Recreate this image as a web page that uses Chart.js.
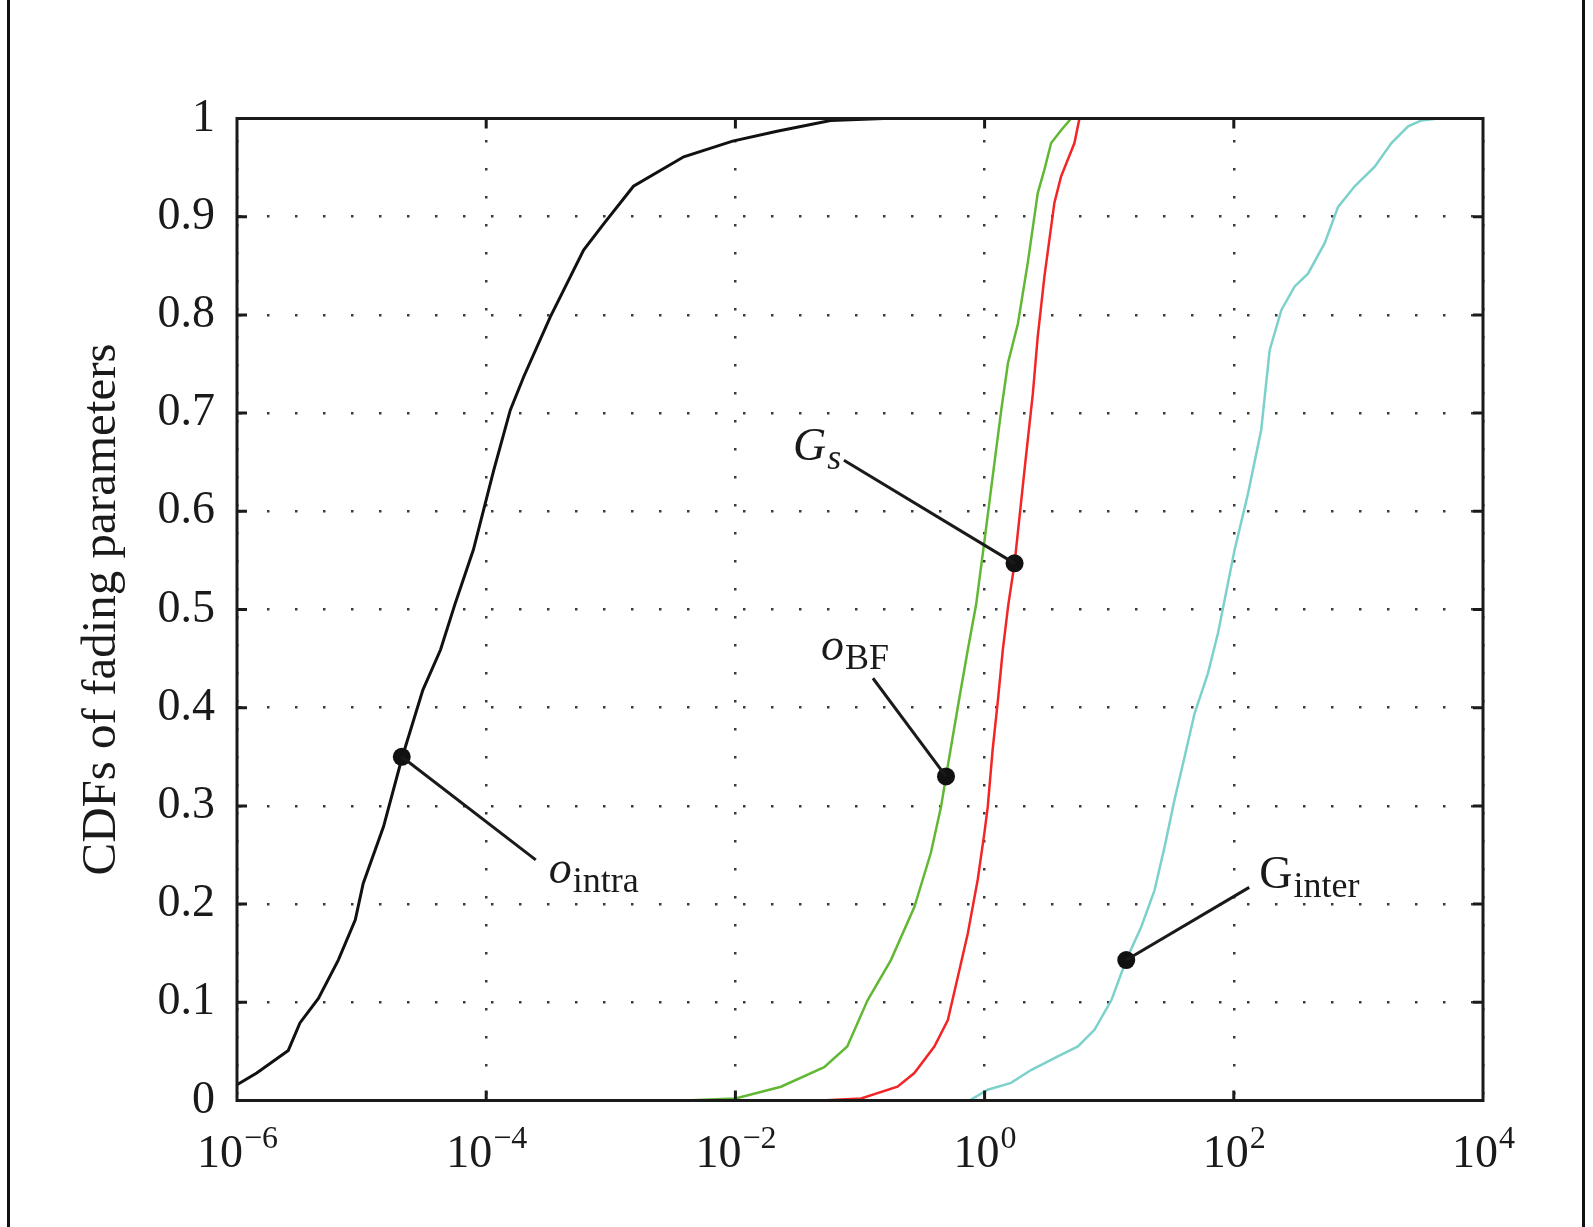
<!DOCTYPE html>
<html>
<head>
<meta charset="utf-8">
<script src="https://cdn.jsdelivr.net/npm/chart.js@4.4.1/dist/chart.umd.min.js"></script>
<style>
  html, body { margin: 0; padding: 0; background: #fff; }
  canvas { display: block; }
</style>
</head>
<body>
<canvas id="cdfChart" width="1593" height="1227"></canvas>
<script>
// axis ticks
const xTickExps = [-6, -4, -2, 0, 2, 4];
const xTickBase = '10';
const xTickSups = ['\u22126', '\u22124', '\u22122', '0', '2', '4'];
const yTicks = [0, 0.1, 0.2, 0.3, 0.4, 0.5, 0.6, 0.7, 0.8, 0.9, 1];
const yTickLabels = ['0', '0.1', '0.2', '0.3', '0.4', '0.5', '0.6', '0.7', '0.8', '0.9', '1'];

// o_intra (black)
const intraX = [1.0e-6, 1.44e-6, 2.58e-6, 3.2e-6, 4.5e-6, 6.5e-6, 8.9e-6, 1.03e-5, 1.5e-5, 2.1e-5,
    3.1e-5, 4.3e-5, 5.6e-5, 7.9e-5, 1.15e-4, 1.56e-4, 2.0e-4, 3.27e-4, 6.05e-4, 8.8e-4,
    1.52e-3, 3.85e-3, 9.5e-3, 2.16e-2, 5.8e-2, 0.155];
const intraY = [0.016, 0.028, 0.051, 0.079, 0.104, 0.143, 0.184, 0.221, 0.279, 0.348,
    0.418, 0.459, 0.505, 0.561, 0.642, 0.703, 0.737, 0.798, 0.866, 0.893,
    0.931, 0.961, 0.977, 0.987, 0.998, 1.0];

// o_BF (green)
const bfX = [4.0e-3, 1.0e-2, 2.32e-2, 5.16e-2, 7.9e-2, 0.115, 0.177, 0.273, 0.37, 0.447,
    0.49, 0.61, 0.733, 0.855, 1.0, 1.16, 1.36, 1.54, 1.85, 2.22, 2.67, 3.02, 3.42, 4.11, 4.95];
const bfY = [0, 0.002, 0.014, 0.034, 0.055, 0.102, 0.143, 0.197, 0.252, 0.299,
    0.33, 0.401, 0.459, 0.505, 0.571, 0.635, 0.703, 0.751, 0.791, 0.853, 0.924, 0.948, 0.975, 0.988, 1.0];

// G_s (red)
const gsX = [4.86e-2, 0.102, 0.2, 0.273, 0.395, 0.507, 0.61, 0.733, 0.881, 0.995,
    1.06, 1.16, 1.28, 1.40, 1.55, 1.74, 2.09, 2.44, 2.67, 3.02, 3.63, 4.11, 4.65, 5.26, 5.77];
const gsY = [0, 0.002, 0.014, 0.028, 0.055, 0.082, 0.126, 0.170, 0.225, 0.272,
    0.299, 0.357, 0.408, 0.459, 0.505, 0.547, 0.642, 0.72, 0.778, 0.839, 0.914, 0.941, 0.958, 0.975, 1.0];

// G_inter (cyan)
const interX = [0.755, 1.06, 1.63, 2.36, 3.87, 5.61, 7.62, 10.4, 13.7, 18.1, 23.1, 27.8, 33.4,
    40.3, 48.4, 62, 74.7, 83, 101.6, 130, 166, 194, 241, 308, 394, 536, 687, 934, 1352,
    1841, 2506, 3207, 4365];
const interY = [0, 0.011, 0.018, 0.031, 0.045, 0.055, 0.072, 0.102, 0.143, 0.177, 0.214, 0.258, 0.306,
    0.35, 0.394, 0.435, 0.476, 0.505, 0.561, 0.618, 0.683, 0.764, 0.805, 0.829, 0.842, 0.873, 0.91, 0.931, 0.951,
    0.975, 0.992, 0.998, 1.0];

// callout dots on the curves
const markerX = [2.1e-5, 0.49, 1.74, 13.7];
const markerY = [0.35, 0.33, 0.547, 0.143];

const pts = (xs, ys) => xs.map((x, i) => ({ x: x, y: ys[i] }));

// callout labels: leader end and text anchor in data units
const callouts = [
    { main: 'o', sub: 'intra', mainItalic: true, subItalic: false, dot: 0, lineEnd: [2.5e-4, 0.245], text: [3.18e-4, 0.2215] },
    { main: 'o', sub: 'BF', mainItalic: true, subItalic: false, dot: 1, lineEnd: [0.127, 0.43], text: [0.0486, 0.4486] },
    { main: 'G', sub: 's', mainItalic: true, subItalic: true, dot: 2, lineEnd: [0.0743, 0.652], text: [0.029, 0.652] },
    { main: 'G', sub: 'inter', mainItalic: false, subItalic: false, dot: 3, lineEnd: [133, 0.217], text: [160, 0.2164] }
];

const ink = '#1a1a1a';
const serif = '"Liberation Serif", "Times New Roman", serif';
Chart.defaults.font.family = serif;
Chart.defaults.color = ink;

const frame = {
    id: 'frame',
    beforeDraw(chart) {
        const { ctx, width, height } = chart;
        ctx.save();
        ctx.fillStyle = '#fff';
        ctx.fillRect(0, 0, width, height);
        ctx.fillStyle = '#111';
        ctx.fillRect(7, 0, 3, height);
        ctx.fillRect(1582, 0, 3, height);
        ctx.restore();
    },
    afterDatasetsDraw(chart) {
        const { ctx, chartArea: a, scales: { x, y } } = chart;
        ctx.save();
        ctx.strokeStyle = ink;
        ctx.lineWidth = 3;

        // short inward ticks
        ctx.beginPath();
        xTickExps.slice(1, -1).forEach(e => {
            const px = x.getPixelForValue(Math.pow(10, e));
            ctx.moveTo(px, a.bottom); ctx.lineTo(px, a.bottom - 10);
            ctx.moveTo(px, a.top); ctx.lineTo(px, a.top + 10);
        });
        yTicks.slice(1, -1).forEach(v => {
            const py = y.getPixelForValue(v);
            ctx.moveTo(a.left, py); ctx.lineTo(a.left + 10, py);
            ctx.moveTo(a.right, py); ctx.lineTo(a.right - 10, py);
        });
        ctx.stroke();
        ctx.strokeRect(a.left, a.top, a.right - a.left, a.bottom - a.top);

        // x tick labels 10^n
        ctx.fillStyle = ink;
        ctx.textBaseline = 'alphabetic';
        ctx.textAlign = 'left';
        xTickExps.forEach((e, i) => {
            const px = x.getPixelForValue(Math.pow(10, e));
            ctx.font = '46px ' + serif;
            const wb = ctx.measureText(xTickBase).width;
            ctx.font = '32px ' + serif;
            const ws = ctx.measureText(xTickSups[i]).width;
            const x0 = px - (wb + ws) / 2;
            ctx.font = '46px ' + serif;
            ctx.fillText(xTickBase, x0, a.bottom + 66);
            ctx.font = '32px ' + serif;
            ctx.fillText(xTickSups[i], x0 + wb + 1, a.bottom + 47);
        });

        // callouts
        callouts.forEach(c => {
            ctx.beginPath();
            ctx.moveTo(x.getPixelForValue(markerX[c.dot]), y.getPixelForValue(markerY[c.dot]));
            ctx.lineTo(x.getPixelForValue(c.lineEnd[0]), y.getPixelForValue(c.lineEnd[1]));
            ctx.stroke();
            const tx = x.getPixelForValue(c.text[0]);
            const ty = y.getPixelForValue(c.text[1]);
            ctx.font = (c.mainItalic ? 'italic ' : '') + '46px ' + serif;
            ctx.fillText(c.main, tx, ty);
            const wm = ctx.measureText(c.main).width;
            ctx.font = (c.subItalic ? 'italic ' : '') + '36px ' + serif;
            ctx.fillText(c.sub, tx + wm + 1, ty + 9);
        });
        ctx.restore();
    }
};

new Chart(document.getElementById('cdfChart'), {
    type: 'scatter',
    data: {
        datasets: [
            {
                label: 'markers',
                data: pts(markerX, markerY),
                showLine: false,
                pointRadius: 9,
                pointBackgroundColor: '#111',
                pointBorderWidth: 0
            },
            {
                label: 'o_intra',
                data: pts(intraX, intraY),
                showLine: true,
                borderColor: '#111',
                borderWidth: 3,
                pointRadius: 0,
                tension: 0
            },
            {
                label: 'o_BF',
                data: pts(bfX, bfY),
                showLine: true,
                borderColor: '#62b834',
                borderWidth: 2.5,
                pointRadius: 0,
                tension: 0
            },
            {
                label: 'G_s',
                data: pts(gsX, gsY),
                showLine: true,
                borderColor: '#f22626',
                borderWidth: 2.5,
                pointRadius: 0,
                tension: 0
            },
            {
                label: 'G_inter',
                data: pts(interX, interY),
                showLine: true,
                borderColor: '#7cd1cb',
                borderWidth: 2.5,
                pointRadius: 0,
                tension: 0
            }
        ]
    },
    options: {
        responsive: false,
        animation: false,
        events: [],
        layout: { padding: { top: 118.5, right: 110, bottom: 0, left: 0 } },
        scales: {
            x: {
                type: 'logarithmic',
                min: 1e-6,
                max: 1e4,
                afterBuildTicks: s => { s.ticks = xTickExps.map(e => ({ value: Math.pow(10, e) })); },
                afterFit: s => { s.height = 126.5; },
                ticks: { display: false },
                grid: { color: '#3a3a3a', lineWidth: 2.5, drawTicks: false },
                border: { display: false, dash: [2.5, 25.5], dashOffset: 6.5 }
            },
            y: {
                type: 'linear',
                min: 0,
                max: 1,
                afterBuildTicks: s => { s.ticks = yTicks.map(v => ({ value: v })); },
                afterFit: s => { s.width = 237; },
                ticks: {
                    callback: (v, i) => yTickLabels[i],
                    color: ink,
                    font: { size: 46 },
                    padding: 22
                },
                grid: { color: '#3a3a3a', lineWidth: 2.5, drawTicks: false },
                border: { display: false, dash: [2.5, 25.5], dashOffset: 26 },
                title: {
                    display: true,
                    text: 'CDFs of fading parameters',
                    color: ink,
                    font: { size: 49 },
                    padding: { top: 73, bottom: 0 }
                }
            }
        },
        plugins: {
            legend: { display: false },
            tooltip: { enabled: false }
        }
    },
    plugins: [frame]
});
</script>
</body>
</html>
